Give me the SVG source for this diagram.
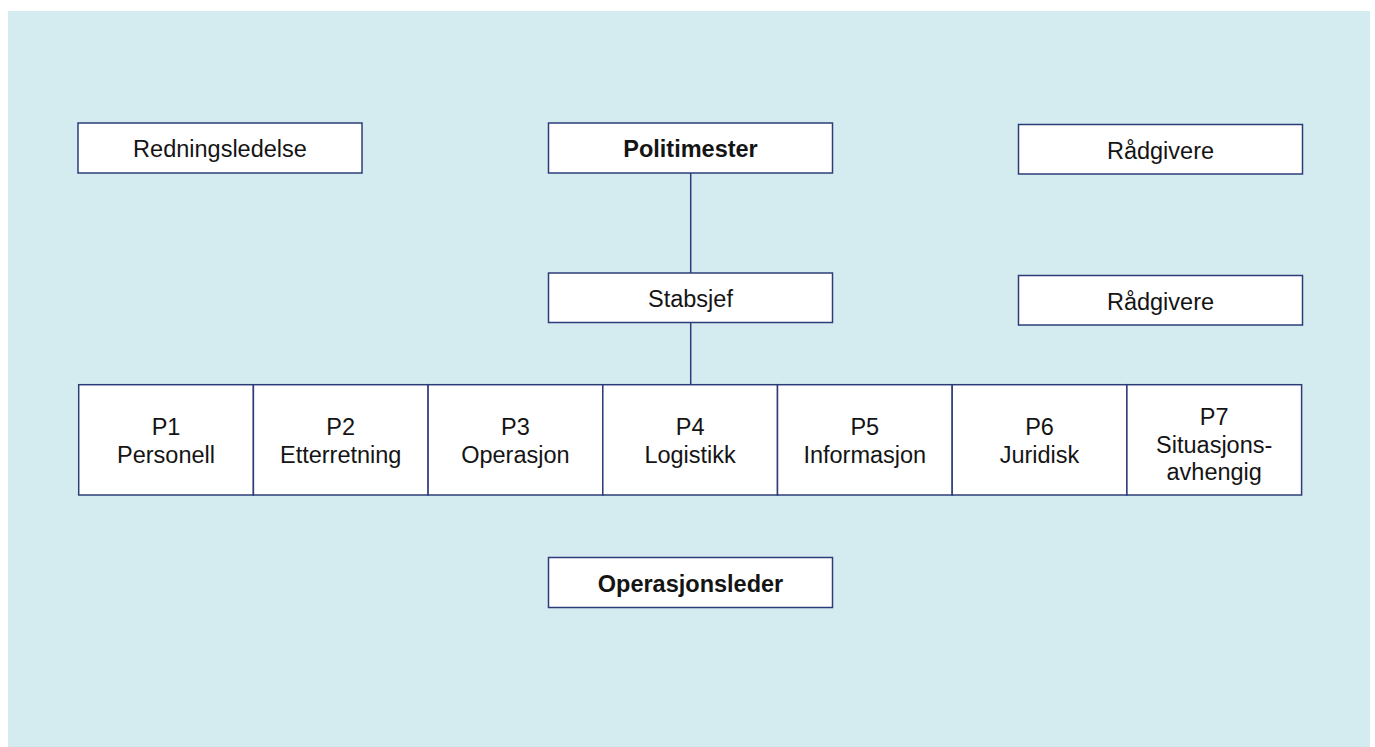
<svg xmlns="http://www.w3.org/2000/svg" width="1375" height="747" viewBox="0 0 1375 747">
  <style>
    .box { fill: #ffffff; stroke: #2d3c78; stroke-width: 1.5; }
    .lbl { font-family: "Liberation Sans", Arial, sans-serif; font-size: 23.5px; fill: #141414; text-anchor: middle; }
    .bold { font-weight: bold; }
    .link { stroke: #2d3c78; stroke-width: 1.5; fill: none; }
  </style>
  <rect x="0" y="0" width="1375" height="747" fill="#ffffff"/>
  <rect x="8" y="11" width="1362" height="736" fill="#d4ecf0"/>

  <g id="connectors">
    <line class="link" x1="690.7" y1="173" x2="690.7" y2="273"/>
    <line class="link" x1="690.7" y1="322" x2="690.7" y2="385"/>
  </g>

  <g id="redningsledelse">
    <rect class="box" x="78" y="123" width="284" height="50"/>
    <text class="lbl" x="220" y="157">Redningsledelse</text>
  </g>
  <g id="politimester">
    <rect class="box" x="548.5" y="123" width="284" height="50"/>
    <text class="lbl bold" x="690.5" y="157">Politimester</text>
  </g>
  <g id="radgivere-1">
    <rect class="box" x="1018.5" y="124.5" width="284" height="49.5"/>
    <text class="lbl" x="1160.5" y="158.5">Rådgivere</text>
  </g>
  <g id="stabsjef">
    <rect class="box" x="548.5" y="273" width="284" height="49.5"/>
    <text class="lbl" x="690.5" y="306.5">Stabsjef</text>
  </g>
  <g id="radgivere-2">
    <rect class="box" x="1018.5" y="275.5" width="284" height="49.5"/>
    <text class="lbl" x="1160.5" y="309.5">Rådgivere</text>
  </g>

  <g id="p1">
    <rect class="box" x="78.7" y="384.7" width="174.7" height="110.3"/>
    <text class="lbl" x="166" y="435">P1</text>
    <text class="lbl" x="166" y="463">Personell</text>
  </g>
  <g id="p2">
    <rect class="box" x="253.4" y="384.7" width="174.7" height="110.3"/>
    <text class="lbl" x="340.7" y="435">P2</text>
    <text class="lbl" x="340.7" y="463">Etterretning</text>
  </g>
  <g id="p3">
    <rect class="box" x="428.1" y="384.7" width="174.7" height="110.3"/>
    <text class="lbl" x="515.4" y="435">P3</text>
    <text class="lbl" x="515.4" y="463">Operasjon</text>
  </g>
  <g id="p4">
    <rect class="box" x="602.8" y="384.7" width="174.7" height="110.3"/>
    <text class="lbl" x="690.1" y="435">P4</text>
    <text class="lbl" x="690.1" y="463">Logistikk</text>
  </g>
  <g id="p5">
    <rect class="box" x="777.5" y="384.7" width="174.7" height="110.3"/>
    <text class="lbl" x="864.8" y="435">P5</text>
    <text class="lbl" x="864.8" y="463">Informasjon</text>
  </g>
  <g id="p6">
    <rect class="box" x="952.2" y="384.7" width="174.7" height="110.3"/>
    <text class="lbl" x="1039.5" y="435">P6</text>
    <text class="lbl" x="1039.5" y="463">Juridisk</text>
  </g>
  <g id="p7">
    <rect class="box" x="1126.9" y="384.7" width="174.7" height="110.3"/>
    <text class="lbl" x="1214.2" y="425">P7</text>
    <text class="lbl" x="1214.2" y="452.5">Situasjons-</text>
    <text class="lbl" x="1214.2" y="480">avhengig</text>
  </g>

  <g id="operasjonsleder">
    <rect class="box" x="548.5" y="557.5" width="284" height="50"/>
    <text class="lbl bold" x="690.5" y="591.5">Operasjonsleder</text>
  </g>
</svg>
